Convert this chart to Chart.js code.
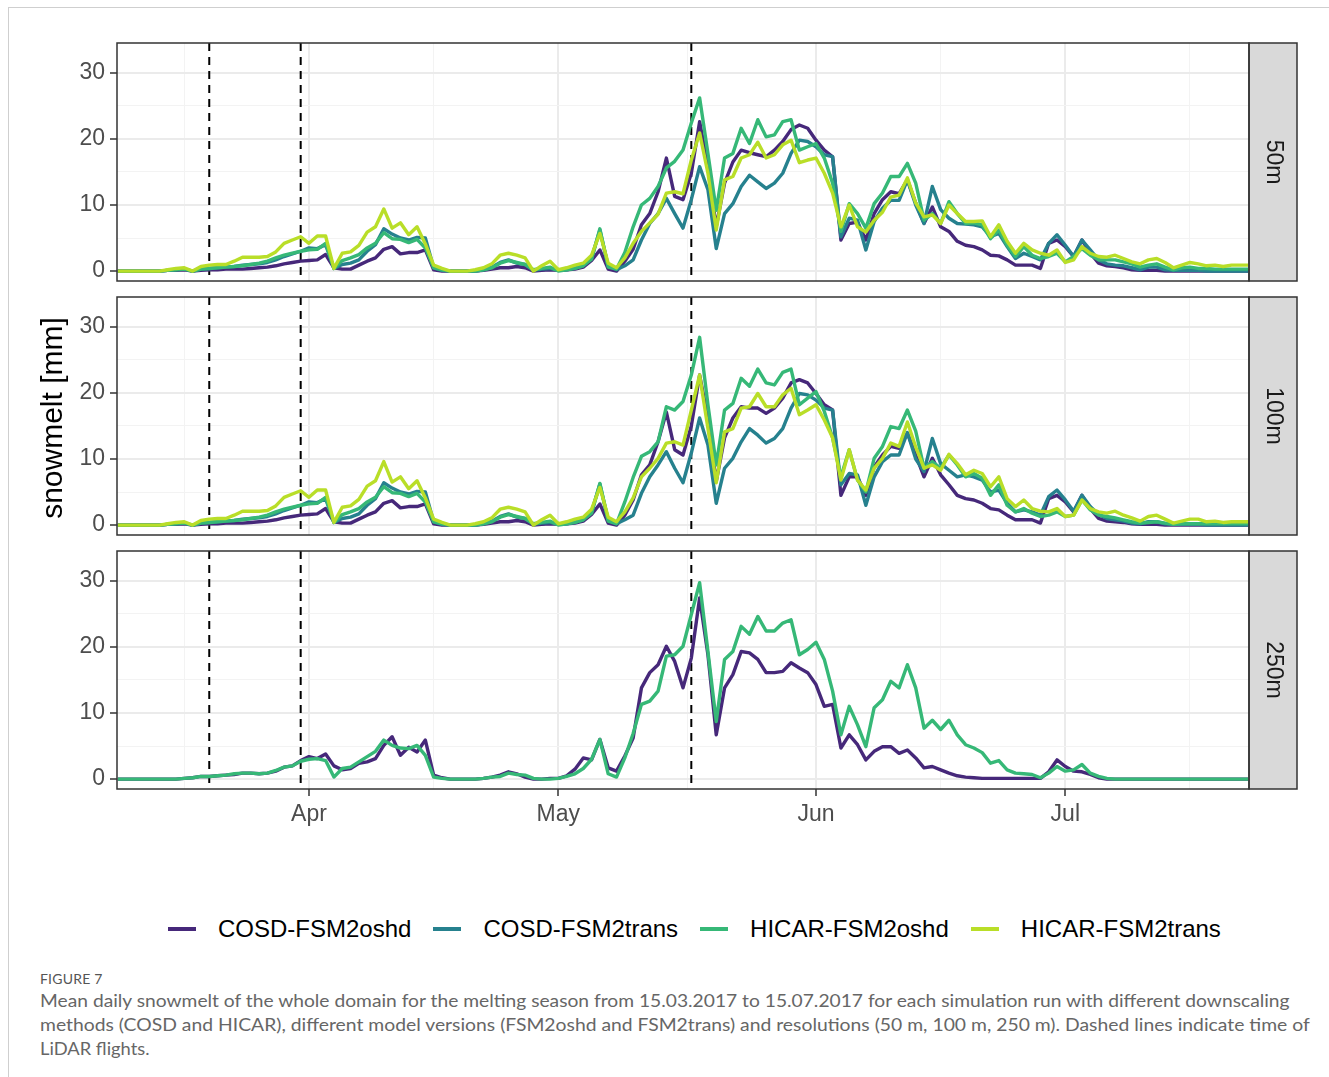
<!DOCTYPE html>
<html lang="en">
<head>
<meta charset="UTF-8">
<title>Mean daily snowmelt</title>
<style>
  body { margin: 0; background: #fff; font-family: 'Liberation Sans', Arial, sans-serif; }
  #page { position: relative; width: 1329px; height: 1077px; overflow: hidden; background: #fff; }
  .frame { position: absolute; left: 8px; top: 7px; right: -2px; bottom: -2px; border-left: 1px solid #cfcfcf; border-top: 1px solid #cfcfcf; }
  canvas.panel { position: absolute; left: 0; }
  #ytitle { position: absolute; left: -98px; top: 400px; width: 300px; height: 36px; line-height: 36px; text-align: center; font-size: 30px; color: #000; transform: rotate(-90deg); }
  #legend { position: absolute; left: 168px; top: 915px; display: flex; align-items: center; font-size: 24px; line-height: 28px; color: #000; }
  #legend .item { display: flex; align-items: center; margin-right: 22px; }
  #legend .swatch { display: inline-block; width: 28px; height: 4px; margin-right: 22px; }
  .cap { position: absolute; left: 40px; white-space: nowrap; font-family: Lato, 'Open Sans', sans-serif; color: #666; transform-origin: 0 50%; }
  #figno { top: 970px; font-size: 14px; line-height: 18px; letter-spacing: 0.2px; color: #555; }
  .line { font-size: 18px; line-height: 24px; }
</style>
<script src="https://cdn.jsdelivr.net/npm/chart.js"></script>
</head>
<body>
<div id="page">
  <div class="frame"></div>
  <canvas id="p50" class="panel" width="1329" height="300" style="top:0px"></canvas>
  <canvas id="p100" class="panel" width="1329" height="278" style="top:277px"></canvas>
  <canvas id="p250" class="panel" width="1329" height="319" style="top:531px"></canvas>
  <div id="ytitle">snowmelt [mm]</div>
  <div id="legend"></div>
  <div id="figno" class="cap">FIGURE 7</div>
  <div class="cap line" style="top:988px" data-w="1250">Mean daily snowmelt of the whole domain for the melting season from 15.03.2017 to 15.07.2017 for each simulation run with different downscaling</div>
  <div class="cap line" style="top:1012px" data-w="1270">methods (COSD and HICAR), different model versions (FSM2oshd and FSM2trans) and resolutions (50 m, 100 m, 250 m). Dashed lines indicate time of</div>
  <div class="cap line" style="top:1036px" data-w="110">LiDAR flights.</div>
</div>
<script>
// daily values, first day 2017-03-09
const startDay = '2017-03-09';

const seriesNames = ['COSD-FSM2oshd', 'COSD-FSM2trans', 'HICAR-FSM2oshd', 'HICAR-FSM2trans'];
const seriesColors = ['#46287a', '#26818e', '#36b877', '#b9de28'];

const monthBreaks = ['2017-04-01', '2017-05-01', '2017-06-01', '2017-07-01'];
const monthLabels = ['Apr', 'May', 'Jun', 'Jul'];
const flightDates = ['2017-03-20', '2017-03-31', '2017-05-17'];
const yMajor = [0, 10, 20, 30];
const yMinor = [5, 15, 25];

// 50 m
const cosdOshd50 = [
  0, 0, 0, 0, 0, 0, 0.1, 0.1, 0.2, 0,
  0.1, 0.2, 0.2, 0.3, 0.3, 0.3, 0.4, 0.5, 0.6, 0.8,
  1.1, 1.3, 1.5, 1.6, 1.7, 2.5, 0.5, 0.3, 0.3, 0.9,
  1.5, 2.0, 3.3, 3.7, 2.6, 2.8, 2.8, 3.2, 0.2, 0,
  0, 0, 0, 0, 0.1, 0.3, 0.5, 0.5, 0.7, 0.5,
  0, 0.1, 0.2, 0.1, 0.2, 0.3, 0.6, 1.6, 3.2, 0.3,
  0, 1.5, 3.3, 7.0, 8.7, 12.0, 17.1, 11.3, 10.8, 14.8,
  22.6, 15.8, 6.7, 13.3, 16.5, 18.3, 17.9, 17.6, 17.3, 18.3,
  19.6, 21.4, 22.1, 21.6, 19.8, 18.3, 17.3, 4.7, 7.2, 7.4,
  4.7, 8.7, 10.8, 12.0, 11.7, 13.8, 10.3, 7.2, 9.7, 6.7,
  6.0, 4.5, 3.9, 3.7, 3.2, 2.4, 2.3, 1.7, 0.9, 0.9,
  0.9, 0.4, 4.2, 4.7, 3.7, 2.2, 4.7, 2.7, 1.2, 0.8,
  0.7, 0.5, 0.2, 0.1, 0.1, 0.1, 0, 0, 0, 0,
  0, 0, 0, 0, 0, 0, 0
];
const cosdTrans50 = [
  0, 0, 0, 0, 0, 0, 0.1, 0.2, 0.3, 0,
  0.3, 0.4, 0.5, 0.6, 0.7, 0.9, 1.0, 1.1, 1.3, 1.7,
  2.2, 2.6, 3.0, 3.5, 3.4, 4.0, 0.4, 1.0, 1.2, 1.7,
  3.0, 4.0, 6.4, 5.6, 5.0, 4.7, 5.1, 5.0, 0.5, 0.1,
  0, 0, 0, 0, 0.2, 0.6, 1.3, 1.7, 1.2, 1.0,
  0.1, 0.3, 0.4, 0.1, 0.2, 0.4, 0.8, 2.0, 6.2, 0.8,
  0.2, 0.8, 1.7, 4.7, 7.2, 8.7, 11.0, 8.7, 6.5, 10.8,
  15.8, 12.3, 3.4, 8.7, 10.2, 12.8, 14.5, 13.5, 12.5, 13.3,
  14.8, 17.8, 19.8, 19.6, 18.8, 17.6, 17.3, 5.2, 8.0, 7.7,
  3.2, 7.5, 9.5, 10.7, 10.7, 13.8, 10.0, 7.2, 12.8, 9.3,
  8.0, 7.2, 7.1, 7.0, 6.7, 5.2, 5.7, 3.7, 1.9, 2.7,
  2.2, 1.7, 4.2, 5.5, 3.9, 2.2, 4.7, 3.2, 1.7, 1.1,
  0.9, 0.8, 0.5, 0.2, 0.6, 0.6, 0.2, 0.1, 0.1, 0.1,
  0.1, 0, 0, 0, 0, 0, 0
];
const hicarOshd50 = [
  0, 0, 0, 0, 0, 0, 0.1, 0.2, 0.3, 0,
  0.3, 0.4, 0.5, 0.6, 0.7, 0.8, 1.0, 1.2, 1.5, 2.0,
  2.4, 2.7, 3.0, 3.2, 3.3, 4.2, 0.4, 1.6, 2.0, 2.5,
  3.5, 4.2, 5.8, 4.9, 4.8, 4.3, 4.8, 3.5, 0.5, 0.2,
  0, 0, 0, 0, 0.2, 0.5, 1.2, 1.6, 1.3, 1.0,
  0.2, 0.4, 0.6, 0, 0.2, 0.4, 0.8, 1.8, 6.4, 0.6,
  0.3, 2.8, 6.7, 10.0, 11.0, 12.8, 15.6, 16.6, 18.3, 22.4,
  26.2, 17.8, 9.2, 17.1, 17.8, 21.6, 19.3, 22.9, 20.3, 20.6,
  22.6, 22.9, 18.3, 18.8, 19.3, 17.1, 13.3, 6.0, 10.2, 8.7,
  6.5, 10.2, 11.8, 14.3, 14.3, 16.3, 13.3, 7.7, 8.7, 7.2,
  10.5, 8.7, 7.2, 7.3, 7.0, 4.9, 6.2, 3.9, 2.2, 3.7,
  2.4, 1.9, 2.2, 2.7, 1.4, 2.2, 3.4, 2.4, 1.7, 1.7,
  1.7, 1.4, 1.1, 0.6, 0.9, 1.1, 0.6, 0.2, 0.5, 0.6,
  0.4, 0.4, 0.3, 0.3, 0.3, 0.3, 0.3
];
const hicarTrans50 = [
  0, 0, 0, 0, 0, 0, 0.2, 0.4, 0.5, 0,
  0.7, 0.9, 1.0, 1.0, 1.5, 2.1, 2.1, 2.1, 2.2, 2.9,
  4.2, 4.7, 5.2, 4.2, 5.3, 5.3, 0.4, 2.7, 2.9, 3.9,
  5.9, 6.7, 9.4, 6.5, 7.3, 5.5, 6.7, 4.1, 0.9, 0.4,
  0, 0, 0, 0.2, 0.5, 1.1, 2.4, 2.7, 2.4, 2.0,
  0, 0.8, 1.5, 0.2, 0.5, 0.9, 1.2, 2.4, 5.7, 1.2,
  0.5, 2.0, 4.2, 6.0, 7.3, 8.6, 11.8, 12.0, 11.7, 16.8,
  20.9, 14.8, 6.2, 13.8, 14.3, 17.1, 17.6, 19.5, 17.1, 17.6,
  19.1, 19.8, 16.4, 16.8, 17.1, 14.8, 11.8, 6.7, 10.0, 6.7,
  5.9, 7.7, 8.9, 11.2, 11.5, 14.1, 10.3, 8.2, 8.5, 7.2,
  10.0, 8.7, 7.5, 7.5, 7.6, 5.2, 7.0, 4.5, 2.7, 4.2,
  3.2, 2.7, 2.4, 3.2, 1.3, 1.7, 3.7, 2.7, 2.2, 2.1,
  2.4, 1.9, 1.4, 1.1, 1.7, 1.9, 1.3, 0.5, 0.9, 1.3,
  1.1, 0.8, 0.9, 0.7, 0.9, 0.9, 0.9
];

// 100 m
const cosdOshd100 = [
  0, 0, 0, 0, 0, 0, 0.1, 0.1, 0.2, 0,
  0.1, 0.2, 0.2, 0.3, 0.3, 0.3, 0.4, 0.5, 0.6, 0.8,
  1.1, 1.3, 1.5, 1.6, 1.7, 2.5, 0.5, 0.3, 0.3, 0.9,
  1.5, 2.0, 3.3, 3.7, 2.6, 2.8, 2.8, 3.2, 0.2, 0,
  0, 0, 0, 0, 0.1, 0.3, 0.5, 0.5, 0.7, 0.5,
  0, 0.1, 0.2, 0.1, 0.2, 0.3, 0.6, 1.6, 3.2, 0.3,
  0, 1.5, 3.8, 7.6, 9.1, 12.6, 17.1, 11.4, 10.6, 15.0,
  22.7, 16.2, 6.6, 13.2, 16.2, 17.9, 17.7, 17.7, 16.9, 17.7,
  19.2, 21.5, 22.0, 21.5, 19.9, 18.2, 17.4, 4.5, 7.3, 7.3,
  4.5, 8.8, 10.6, 11.9, 11.6, 13.9, 10.6, 7.3, 10.1, 7.6,
  6.1, 4.5, 4.0, 3.8, 3.3, 2.5, 2.3, 1.5, 0.8, 0.8,
  0.8, 0.3, 4.0, 4.5, 3.5, 2.0, 4.5, 2.5, 1.0, 0.6,
  0.5, 0.4, 0.2, 0.1, 0.1, 0.1, 0, 0, 0, 0,
  0, 0, 0, 0, 0, 0, 0
];
const cosdTrans100 = [
  0, 0, 0, 0, 0, 0, 0.1, 0.2, 0.3, 0,
  0.3, 0.4, 0.5, 0.6, 0.7, 0.9, 1.0, 1.1, 1.3, 1.7,
  2.2, 2.6, 3.0, 3.5, 3.4, 4.0, 0.4, 1.0, 1.2, 1.7,
  3.0, 4.0, 6.4, 5.6, 5.0, 4.7, 5.1, 5.0, 0.5, 0.1,
  0, 0, 0, 0, 0.2, 0.6, 1.3, 1.7, 1.2, 1.0,
  0.1, 0.3, 0.4, 0.1, 0.2, 0.4, 0.8, 2.0, 6.2, 0.8,
  0.2, 0.8, 1.5, 4.8, 7.3, 9.1, 11.1, 8.6, 6.4, 10.9,
  16.2, 12.1, 3.3, 8.6, 10.1, 12.6, 14.6, 13.6, 12.4, 13.1,
  14.6, 17.7, 19.9, 19.7, 18.9, 17.7, 17.4, 6.1, 7.8, 7.6,
  3.0, 7.3, 9.6, 10.6, 10.6, 14.0, 10.0, 8.1, 13.1, 9.3,
  8.3, 7.3, 7.6, 7.3, 6.8, 5.0, 5.3, 3.3, 2.0, 2.3,
  2.0, 1.5, 4.3, 5.3, 3.8, 2.1, 4.5, 2.8, 1.6, 1.0,
  0.8, 0.6, 0.3, 0.2, 0.5, 0.5, 0.2, 0.1, 0.1, 0.1,
  0.1, 0, 0, 0, 0, 0, 0
];
const hicarOshd100 = [
  0, 0, 0, 0, 0, 0, 0.1, 0.2, 0.3, 0,
  0.3, 0.4, 0.5, 0.6, 0.7, 0.8, 1.0, 1.2, 1.5, 2.0,
  2.4, 2.7, 3.0, 3.2, 3.3, 4.2, 0.4, 1.6, 2.0, 2.5,
  3.5, 4.2, 5.8, 4.9, 4.8, 4.3, 4.8, 3.5, 0.5, 0.2,
  0, 0, 0, 0, 0.2, 0.5, 1.2, 1.6, 1.3, 1.0,
  0.2, 0.4, 0.6, 0, 0.2, 0.4, 0.8, 1.8, 6.3, 0.6,
  0.2, 3.5, 7.2, 10.4, 11.1, 12.6, 17.9, 17.4, 18.7, 22.7,
  28.4, 18.2, 9.1, 17.4, 18.4, 22.2, 21.0, 23.6, 21.5, 21.2,
  23.1, 23.6, 18.2, 19.2, 20.2, 17.2, 13.2, 7.3, 11.4, 6.8,
  5.0, 10.1, 11.9, 14.9, 14.6, 17.4, 14.2, 8.6, 9.6, 8.6,
  10.6, 9.1, 7.3, 7.8, 7.1, 4.5, 6.1, 3.0, 2.0, 2.5,
  1.8, 1.3, 1.5, 2.0, 1.3, 1.5, 3.8, 2.3, 1.5, 1.3,
  1.1, 0.8, 0.5, 0.3, 0.4, 0.5, 0.3, 0.1, 0.2, 0.2,
  0.2, 0.2, 0.2, 0.2, 0.2, 0.2, 0.2
];
const hicarTrans100 = [
  0, 0, 0, 0, 0, 0, 0.2, 0.4, 0.5, 0,
  0.7, 0.9, 1.0, 1.0, 1.5, 2.1, 2.1, 2.1, 2.2, 2.9,
  4.2, 4.7, 5.2, 4.2, 5.3, 5.3, 0.4, 2.7, 2.9, 3.9,
  5.9, 6.7, 9.6, 6.5, 7.3, 5.5, 6.7, 4.1, 0.9, 0.4,
  0, 0, 0, 0.2, 0.5, 1.1, 2.4, 2.7, 2.4, 2.0,
  0, 0.8, 1.5, 0.2, 0.5, 0.9, 1.2, 2.4, 5.7, 1.2,
  0.5, 2.0, 4.1, 7.3, 8.6, 10.1, 12.4, 12.6, 12.1, 17.4,
  22.7, 14.6, 6.4, 14.1, 14.6, 17.7, 17.9, 19.9, 17.9, 17.9,
  19.7, 20.7, 16.7, 17.4, 18.2, 15.9, 13.2, 6.8, 11.4, 6.8,
  5.3, 8.6, 10.1, 12.4, 11.9, 15.6, 11.8, 8.6, 9.1, 8.3,
  10.7, 9.3, 7.6, 8.3, 7.8, 5.8, 7.3, 4.0, 2.8, 3.8,
  2.5, 2.1, 2.0, 2.5, 1.3, 1.5, 3.8, 2.5, 2.0, 1.8,
  2.1, 1.5, 1.1, 0.6, 1.3, 1.5, 0.9, 0.3, 0.6, 0.9,
  0.9, 0.5, 0.6, 0.4, 0.5, 0.5, 0.5
];

// 250 m
const cosdOshd250 = [
  0, 0, 0, 0, 0, 0, 0, 0, 0.1, 0.2,
  0.4, 0.4, 0.5, 0.6, 0.7, 0.9, 0.9, 0.8, 0.9, 1.2,
  1.8, 2.0, 2.8, 3.4, 3.1, 3.8, 2.0, 1.4, 1.6, 2.4,
  2.6, 3.1, 5.1, 6.4, 3.6, 4.8, 4.1, 5.9, 0.6, 0.2,
  0, 0, 0, 0, 0.1, 0.3, 0.6, 1.1, 0.8, 0.3,
  0, 0, 0.1, 0.1, 0.5, 1.5, 3.2, 2.9, 6.0, 1.7,
  1.2, 3.5, 6.2, 13.8, 16.1, 17.3, 20.1, 17.8, 13.8, 18.3,
  27.4, 18.8, 6.7, 13.8, 15.8, 19.3, 19.1, 18.1, 16.1, 16.1,
  16.3, 17.6, 16.8, 16.1, 14.3, 11.0, 11.3, 4.7, 6.7, 5.2,
  2.9, 4.2, 4.9, 4.9, 3.9, 4.4, 3.2, 1.7, 1.9, 1.4,
  0.9, 0.5, 0.3, 0.2, 0.1, 0.1, 0.1, 0.1, 0.1, 0.1,
  0.1, 0.1, 1.1, 2.9, 1.9, 1.2, 1.1, 0.7, 0.2, 0,
  0, 0, 0, 0, 0, 0, 0, 0, 0, 0,
  0, 0, 0, 0, 0, 0, 0
];
const hicarOshd250 = [
  0, 0, 0, 0, 0, 0, 0, 0, 0.1, 0.2,
  0.4, 0.4, 0.5, 0.6, 0.8, 0.9, 0.9, 0.8, 0.9, 1.3,
  1.8, 2.0, 2.7, 3.0, 3.1, 2.8, 0.3, 1.6, 1.8, 2.6,
  3.4, 4.2, 5.9, 5.1, 4.7, 4.6, 5.1, 3.6, 0.3, 0.1,
  0, 0, 0, 0, 0.1, 0.3, 0.4, 0.9, 0.7, 0.6,
  0.1, 0, 0, 0.1, 0.4, 0.8, 1.6, 3.0, 6.0, 0.8,
  0.3, 3.2, 6.9, 11.3, 11.8, 13.3, 18.6, 18.8, 20.1, 24.9,
  29.7, 19.3, 8.7, 18.1, 19.3, 23.1, 21.9, 24.6, 22.4, 22.4,
  23.6, 24.1, 18.8, 19.6, 20.7, 18.1, 13.3, 6.7, 11.0, 8.2,
  4.9, 10.8, 12.0, 14.8, 13.8, 17.3, 13.8, 7.7, 8.9, 7.5,
  8.9, 6.7, 5.2, 4.7, 4.0, 2.4, 2.8, 1.4, 0.9, 0.8,
  0.7, 0.2, 0.9, 1.9, 1.2, 1.4, 2.2, 0.9, 0.4, 0.1,
  0, 0, 0, 0, 0, 0, 0, 0, 0, 0,
  0, 0, 0, 0, 0, 0, 0
];

const panels = [
  { id: 'p50', label: '50m', padTop: 43, xHeight: 19, showX: false,
    series: [cosdOshd50, cosdTrans50, hicarOshd50, hicarTrans50] },
  { id: 'p100', label: '100m', padTop: 20, xHeight: 20, showX: false,
    series: [cosdOshd100, cosdTrans100, hicarOshd100, hicarTrans100] },
  { id: 'p250', label: '250m', padTop: 20, xHeight: 61, showX: true,
    series: [cosdOshd250, null, hicarOshd250, null] }
];

function dayIndex(s) {
  const [y, m, d] = s.split('-').map(Number);
  const [y0, m0, d0] = startDay.split('-').map(Number);
  return (Date.UTC(y, m - 1, d) - Date.UTC(y0, m0 - 1, d0)) / 86400000;
}

// major breaks on the 1st of each month, minor ones halfway between (ggplot style)
const xMajor = monthBreaks.map(dayIndex);
const xTicks = [];
xTicks.push({ value: xMajor[0] - (xMajor[1] - xMajor[0]) / 2, label: '', major: false });
xMajor.forEach((v, k) => {
  xTicks.push({ value: v, label: monthLabels[k], major: true });
  const next = k < xMajor.length - 1 ? xMajor[k + 1] : v + (v - xMajor[k - 1]);
  xTicks.push({ value: (v + next) / 2, label: '', major: false });
});
const yTicks = yMajor.concat(yMinor).sort((a, b) => a - b);

Chart.defaults.font.family = "'Liberation Sans', Arial, sans-serif";
Chart.defaults.color = '#4d4d4d';

const panelDecor = {
  id: 'panelDecor',
  beforeDatasetsDraw(chart) {
    const { ctx, chartArea: a, scales: { x } } = chart;
    ctx.save();
    ctx.strokeStyle = '#000';
    ctx.lineWidth = 2;
    ctx.setLineDash([8, 6]);
    flightDates.forEach(d => {
      const px = x.getPixelForValue(dayIndex(d));
      ctx.beginPath();
      ctx.moveTo(px, a.top);
      ctx.lineTo(px, a.bottom);
      ctx.stroke();
    });
    ctx.restore();
  },
  afterDraw(chart, args, opts) {
    const { ctx, chartArea: a } = chart;
    const h = a.bottom - a.top;
    ctx.save();
    // facet strip on the right
    ctx.fillStyle = '#d9d9d9';
    ctx.fillRect(a.right, a.top, 48, h);
    ctx.strokeStyle = '#333';
    ctx.lineWidth = 1.5;
    ctx.strokeRect(a.right, a.top, 48, h);
    ctx.strokeRect(a.left, a.top, a.right - a.left, h);
    ctx.translate(a.right + 24, a.top + h / 2);
    ctx.rotate(Math.PI / 2);
    ctx.fillStyle = '#1a1a1a';
    ctx.font = "23px 'Liberation Sans', Arial, sans-serif";
    ctx.textAlign = 'center';
    ctx.textBaseline = 'middle';
    ctx.fillText(opts.label, 0, 0);
    ctx.restore();
  }
};

panels.forEach(p => {
  const datasets = [];
  p.series.forEach((vals, k) => {
    if (!vals) return;
    datasets.push({
      label: seriesNames[k],
      data: vals.map((v, i) => ({ x: i, y: v })),
      borderColor: seriesColors[k],
      borderWidth: 3.4,
      borderJoinStyle: 'round',
      pointRadius: 0,
      fill: false,
      order: 4 - k
    });
  });

  new Chart(document.getElementById(p.id), {
    type: 'line',
    data: { datasets },
    options: {
      responsive: false,
      animation: false,
      devicePixelRatio: 1,
      layout: { padding: { left: 0, right: 80, top: p.padTop, bottom: 0 } },
      plugins: { legend: { display: false }, tooltip: { enabled: false }, panelDecor: { label: p.label } },
      scales: {
        x: {
          type: 'linear',
          min: -0.1,
          max: 136.1,
          afterBuildTicks: s => { s.ticks = xTicks.map(t => ({ value: t.value })); },
          afterFit: s => { s.height = p.xHeight; },
          border: { display: false },
          grid: {
            color: c => (c.tick && xTicks[c.index] && xTicks[c.index].major) ? '#ebebeb' : '#f3f3f3',
            lineWidth: c => (c.tick && xTicks[c.index] && xTicks[c.index].major) ? 2 : 1,
            drawTicks: p.showX,
            tickLength: 7,
            tickWidth: 1.5,
            tickColor: c => (xTicks[c.index] && xTicks[c.index].major) ? '#333' : 'rgba(0,0,0,0)'
          },
          ticks: {
            display: p.showX,
            autoSkip: false,
            maxRotation: 0,
            padding: 5,
            color: '#4d4d4d',
            font: { size: 23 },
            callback: (v, i) => xTicks[i] ? xTicks[i].label : ''
          }
        },
        y: {
          min: -1.5,
          max: 34.5,
          afterBuildTicks: s => { s.ticks = yTicks.map(v => ({ value: v })); },
          afterFit: s => { s.width = 117; },
          border: { display: false },
          grid: {
            color: c => (c.tick && yMajor.includes(c.tick.value)) ? '#ebebeb' : '#f3f3f3',
            lineWidth: c => (c.tick && yMajor.includes(c.tick.value)) ? 2 : 1,
            tickLength: 7,
            tickWidth: 1.5,
            tickColor: c => (c.tick && yMajor.includes(c.tick.value)) ? '#333' : 'rgba(0,0,0,0)'
          },
          ticks: {
            padding: 5,
            color: '#4d4d4d',
            font: { size: 23 },
            callback: v => yMajor.includes(v) ? String(v) : ''
          }
        }
      }
    },
    plugins: [panelDecor]
  });
});

// legend below the panels
const legendEl = document.getElementById('legend');
seriesNames.forEach((name, k) => {
  const item = document.createElement('div');
  item.className = 'item';
  const sw = document.createElement('span');
  sw.className = 'swatch';
  sw.style.background = seriesColors[k];
  const tx = document.createElement('span');
  tx.textContent = name;
  item.append(sw, tx);
  legendEl.appendChild(item);
});

// squeeze caption lines to their column width
function fitCaption() {
  document.querySelectorAll('.cap.line').forEach(el => {
    const target = Number(el.dataset.w);
    const w = el.scrollWidth;
    if (w > 0) el.style.transform = 'scaleX(' + (target / w) + ')';
  });
}
if (document.fonts && document.fonts.ready) document.fonts.ready.then(fitCaption); else fitCaption();
</script>
</body>
</html>
